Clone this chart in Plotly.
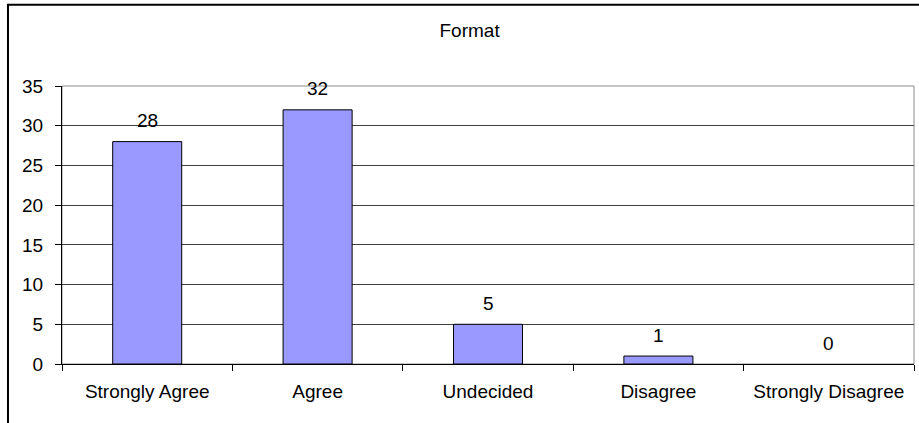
import plotly.graph_objects as go

# Survey responses for the "Format" question
categories = ["Strongly Agree", "Agree", "Undecided", "Disagree", "Strongly Disagree"]
counts = [28, 32, 5, 1, 0]
y_ticks = [0, 5, 10, 15, 20, 25, 30, 35]

FONT = dict(family="Liberation Sans, Arial, sans-serif", size=19, color="black")

# empty categories get no outline so no sliver is drawn on the axis
outline_widths = [1 if v > 0 else 0 for v in counts]

fig = go.Figure()
fig.add_trace(go.Bar(
    x=categories,
    y=counts,
    marker=dict(color="#9999FF", line=dict(color="black", width=outline_widths)),
    hoverinfo="x+y",
))

# value labels above each bar
for cat, val in zip(categories, counts):
    fig.add_annotation(x=cat, y=val, text=str(val), showarrow=False,
                       yanchor="middle", yshift=21, font=FONT)

# plot-area frame (gray) and outer chart border (black)
fig.add_shape(type="rect", xref="paper", yref="paper", x0=0, x1=1, y0=0, y1=1,
              line=dict(color="#8c8c8c", width=1), layer="below")
fig.add_shape(type="rect", xref="paper", yref="paper",
              x0=-0.0634, x1=1.2, y0=-0.5, y1=1.292,
              line=dict(color="black", width=2), layer="below")

fig.update_layout(
    width=919, height=423,
    margin=dict(l=62, r=5, t=86, b=59),
    paper_bgcolor="white", plot_bgcolor="white",
    font=FONT,
    showlegend=False,
    bargap=0.595,
    title=dict(text="Format", x=0.511, xanchor="center", xref="container",
               y=1 - 30 / 423, yanchor="middle", yref="container", font=FONT),
)
fig.update_xaxes(
    type="category", showline=True, linecolor="black", linewidth=1,
    ticks="outside", tickson="boundaries", ticklen=6, tickcolor="black",
    showgrid=False, ticklabelstandoff=10,
)
fig.update_yaxes(
    range=[0, 35], tickvals=y_ticks, showline=True, linecolor="black", linewidth=1,
    ticks="outside", ticklen=6, tickcolor="black",
    showgrid=True, gridcolor="#404040", gridwidth=1, zeroline=False,
    ticklabelstandoff=8,
)

fig.write_html("out.html")
